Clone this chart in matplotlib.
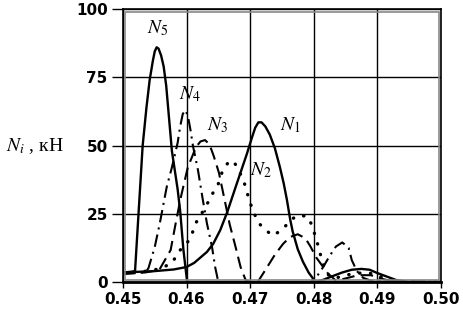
import matplotlib
matplotlib.use('Agg')
import matplotlib.pyplot as plt
from matplotlib.patches import Rectangle

plt.rcParams['mathtext.fontset'] = 'stix'

# кривые N1..N5, значения (x, кН)
n1_x = [0.450, 0.455, 0.458, 0.460, 0.4612, 0.4621, 0.4632, 0.4642, 0.4653, 0.4664,
        0.4679, 0.4695, 0.4703, 0.4708, 0.4713, 0.4718, 0.4724, 0.4731, 0.4739, 0.4747,
        0.4753, 0.4758, 0.4763, 0.4767, 0.4775, 0.4783, 0.4792, 0.4803, 0.4815, 0.4828,
        0.4845, 0.4860, 0.4875, 0.4888, 0.4900, 0.4915, 0.4930, 0.4950, 0.500]
n1_y = [3.5, 4.0, 4.6, 5.5, 7.0, 8.8, 11.0, 14.0, 19.0, 25.6,
        36.0, 47.0, 53.0, 56.5, 58.5, 58.5, 57.0, 54.0, 49.0, 42.0,
        36.0, 30.0, 23.0, 18.5, 12.0, 7.5, 3.5, 0.0, 0.8, 2.0,
        3.5, 4.5, 4.8, 4.5, 3.3, 2.0, 0.7, 0.0, 0.0]

n2_x = [0.450, 0.4540, 0.4560, 0.4577, 0.4590, 0.4600, 0.4608, 0.4613, 0.4630, 0.4640,
        0.4650, 0.4657, 0.4665, 0.4673, 0.4680, 0.4690, 0.4695, 0.4700, 0.4712, 0.4720,
        0.4735, 0.4750, 0.4765, 0.4777, 0.4790, 0.4797, 0.4805, 0.4810, 0.4817, 0.4825,
        0.4835, 0.4860, 0.4885, 0.4905, 0.4925, 0.500]
n2_y = [3.5, 4.0, 5.0, 7.0, 11.7, 14.0, 17.0, 21.0, 27.5, 32.0,
        36.0, 41.0, 43.6, 44.5, 42.0, 37.0, 33.0, 29.0, 22.0, 20.0,
        17.0, 19.0, 23.0, 24.5, 24.0, 21.0, 15.0, 10.6, 5.0, 2.0,
        1.5, 3.0, 3.5, 2.0, 0.0, 0.0]

n3_x = [0.450, 0.4535, 0.4557, 0.4575, 0.4583, 0.4591, 0.4602, 0.4615, 0.4622, 0.4629,
        0.4636, 0.4643, 0.4651, 0.4660, 0.4668, 0.4677, 0.4685, 0.4693, 0.4700, 0.4712,
        0.4724, 0.4739, 0.4752, 0.4763, 0.4775, 0.4787, 0.4795, 0.4804, 0.4815, 0.4823,
        0.4835, 0.4845, 0.4870, 0.4890, 0.4910, 0.4930, 0.500]
n3_y = [3.0, 3.5, 4.4, 11.7, 21.6, 31.0, 42.0, 49.5, 51.5, 52.0,
        50.5, 46.0, 40.0, 30.0, 21.0, 13.0, 5.5, 0.7, 0.0, 0.0,
        4.4, 10.0, 14.0, 16.5, 17.5, 16.0, 13.0, 9.0, 5.5, 3.0,
        0.5, 1.0, 2.5, 2.5, 1.0, 0.0, 0.0]

n4_x = [0.450, 0.4535, 0.4540, 0.4550, 0.4558, 0.4569, 0.4577, 0.4586, 0.4590, 0.4594,
        0.4598, 0.4602, 0.4606, 0.4610, 0.4618, 0.4625, 0.4632, 0.4640, 0.4645, 0.4650,
        0.4795, 0.4805, 0.4815, 0.4825, 0.4835, 0.4845, 0.4855, 0.4860, 0.4868, 0.4878,
        0.4890, 0.500]
n4_y = [3.0, 3.5, 5.0, 12.8, 21.6, 35.0, 42.0, 51.0, 57.0, 61.5,
        63.0, 61.0, 56.0, 50.0, 41.0, 31.0, 21.6, 13.0, 5.5, 0.0,
        0.0, 2.0, 5.5, 9.5, 13.0, 14.5, 12.5, 8.0, 4.0, 1.5,
        0.5, 0.0]

n5_x = [0.450, 0.4515, 0.4519, 0.4525, 0.4531, 0.4537, 0.4542, 0.4547, 0.4550, 0.4553,
        0.4556, 0.4560, 0.4564, 0.4568, 0.4577, 0.4586, 0.4590, 0.4595, 0.4601, 0.500]
n5_y = [3.5, 3.8, 4.0, 27.0, 50.0, 64.0, 74.0, 81.0, 84.5, 86.0,
        85.5, 83.0, 79.0, 72.0, 48.0, 34.0, 26.0, 12.0, 0.0, 0.0]

x_ticks = [0.45, 0.46, 0.47, 0.48, 0.49, 0.50]
y_ticks = [0, 25, 50, 75, 100]

fig = plt.figure(figsize=(4.64, 3.13), dpi=100)
ax = fig.add_axes([0.265, 0.099, 0.685, 0.872])

ax.plot(n1_x, n1_y, color='black', lw=1.7, ls='-')
ax.plot(n2_x, n2_y, color='black', lw=2.4, ls=(0, (0.1, 3.2)), dash_capstyle='round')
ax.plot(n3_x, n3_y, color='black', lw=1.5, ls=(0, (6, 3)))
ax.plot(n4_x, n4_y, color='black', lw=1.5, ls=(0, (6, 2.5, 1, 2.5)))
ax.plot(n5_x, n5_y, color='black', lw=1.7, ls='-')

# подписи кривых
lbl = dict(fontsize=14, family='Liberation Serif', ha='center', va='center')
ax.text(0.4555, 93, '$N_5$', **lbl)
ax.text(0.4606, 69, '$N_4$', **lbl)
ax.text(0.4649, 57.5, '$N_3$', **lbl)
ax.text(0.4764, 57.5, '$N_1$', **lbl)
ax.text(0.4717, 41, '$N_2$', **lbl)

ax.set_xlim(0.45, 0.50)
ax.set_ylim(0, 100)
ax.set_xticks(x_ticks)
ax.set_xticklabels(['%.2f' % v for v in x_ticks])
ax.set_yticks(y_ticks)
ax.tick_params(labelsize=11, length=8, width=1, pad=3, direction='out')
ax.tick_params(axis='x', length=4)
for t in ax.get_xticklabels() + ax.get_yticklabels():
    t.set_fontweight('bold')
ax.grid(True, color='black', lw=1)
for s in ax.spines.values():
    s.set_linewidth(1.2)
ax.spines['bottom'].set_linewidth(2)

# внутренняя серая рамка
ax.add_patch(Rectangle((0.006, 0.008), 0.988, 0.982, transform=ax.transAxes,
                       fill=False, edgecolor='#888888', lw=1.2, zorder=5))

fig.text(0.012, 0.533, '$N_i$ , кН', fontsize=14, family='Liberation Serif',
         ha='left', va='center')

fig.savefig('out.png', dpi=100)
